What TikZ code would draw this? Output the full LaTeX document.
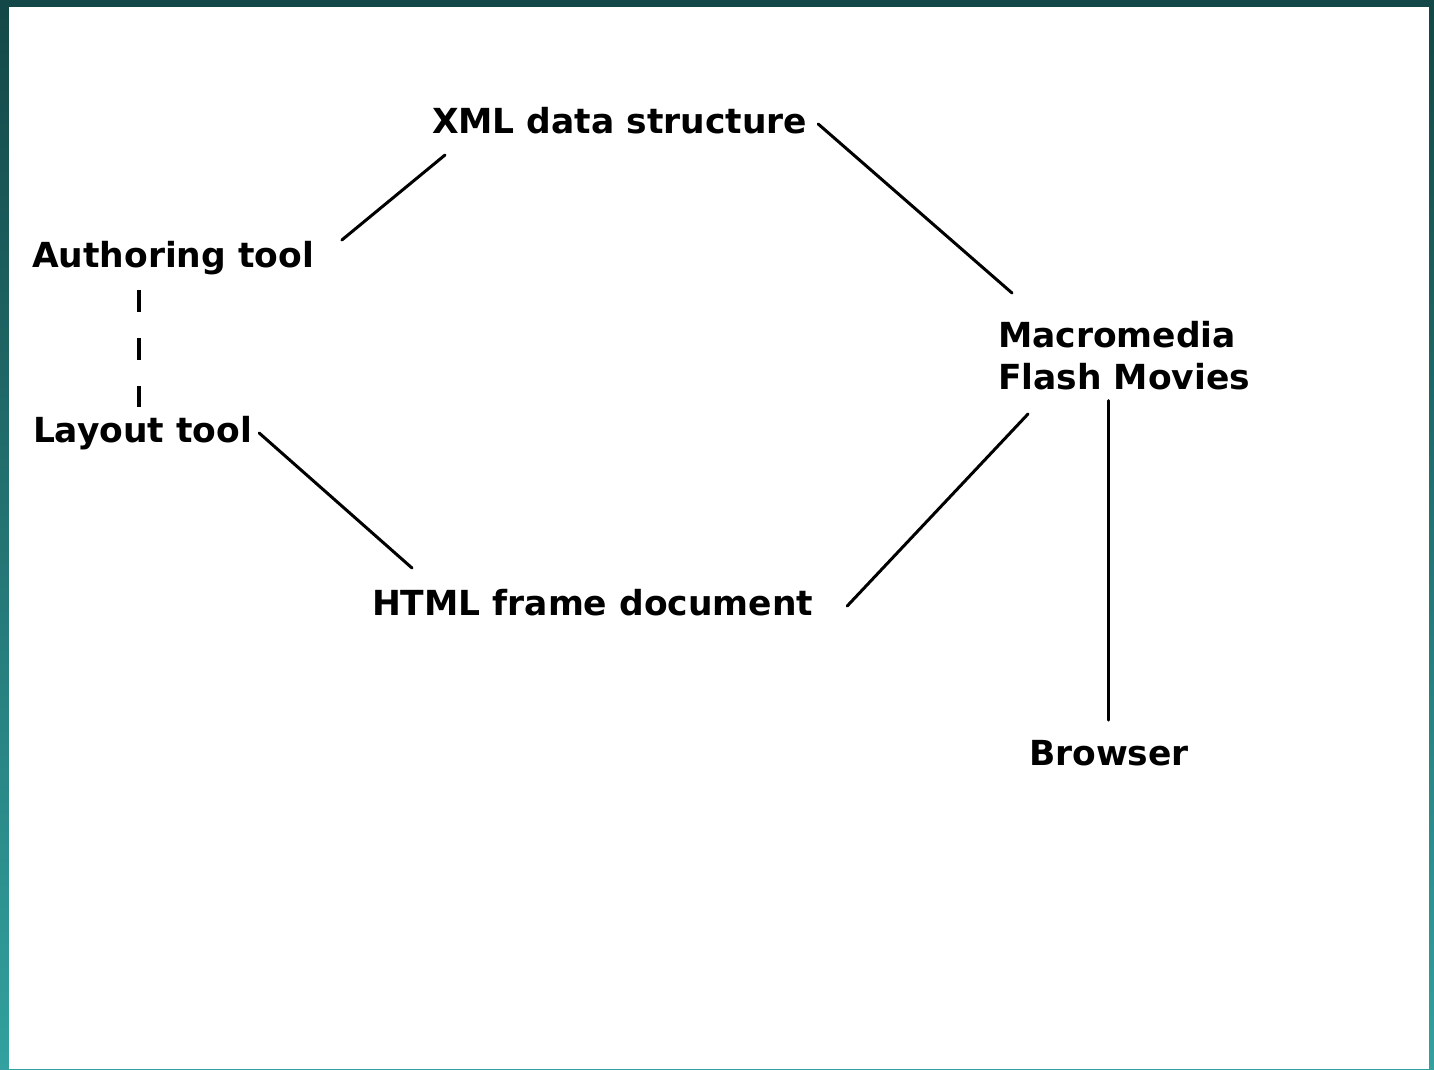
\documentclass[tikz,border=0pt]{standalone}
\usepackage{fontspec}
\setmainfont{DejaVu Sans}
\usetikzlibrary{calc}
\definecolor{tealtop}{HTML}{144747}
\definecolor{tealbot}{HTML}{32A19F}
\tikzset{
  lbl/.style={font=\fontsize{34.5}{42}\selectfont\bfseries, inner sep=0pt, outer sep=0pt, anchor=base west},
  one/.style={text height=27pt, text depth=8pt},
  conn/.style={line width=3pt, line cap=round, black},
  dashconn/.style={black, line width=4pt, line cap=butt, dash pattern=on 22pt off 26pt}
}
\begin{document}
\begin{tikzpicture}[x=1pt, y=-1pt]
\useasboundingbox (0,0) rectangle (1434,1069);
\shade[top color=tealtop, bottom color=tealbot] (0,0) rectangle (1434,1069);
\fill[white] (9,7) rectangle (1429,1069);

\node[lbl, one] (xml) at (432,133) {XML data structure};
\node[lbl, one] (auth) at (32,267) {Authoring tool};
\node[lbl, one] (layout) at (33,442) {Layout tool};
\node[lbl, anchor=north west, align=left] (mm) at (998,321) {Macromedia\\Flash Movies};
\node[lbl, one] (html) at (372,615) {HTML frame document};
\node[lbl, one] (browser) at (1029,765) {Browser};

\draw[conn] ($(auth.east)+(28,-17.5)$) -- ($(xml.south west)+(13,14)$);
\draw[conn] ($(xml.east)+(11,0.5)$) -- ($(mm.north west)+(14,-28)$);
\draw[dashconn] ($(auth.south west)+(107,15)$) -- ($(layout.north west)+(106,-8)$);
\draw[conn] ($(layout.east)+(7,0.5)$) -- ($(html.north west)+(40,-20)$);
\draw[conn] ($(html.east)+(34,0.5)$) -- ($(mm.north west)+(30,93)$);
\draw[conn, shorten <=11pt, shorten >=18pt] (browser.north |- mm.south) -- (browser.north);
\end{tikzpicture}
\end{document}
